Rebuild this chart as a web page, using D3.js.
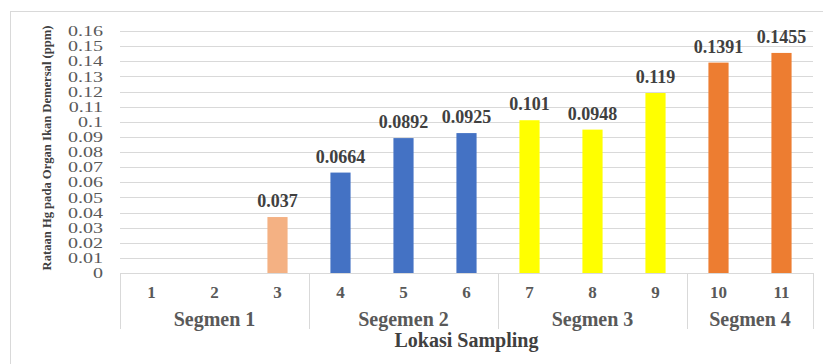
<!DOCTYPE html>
<html><head><meta charset="utf-8">
<script src="https://cdn.jsdelivr.net/npm/d3@7"></script>
<style>body{margin:0;background:#fff}svg{display:block}</style>
</head><body><svg id="c" width="823" height="364"></svg>
<script>
const categories = ["1","2","3","4","5","6","7","8","9","10","11"];
const values = [0,0,0.037,0.0664,0.0892,0.0925,0.101,0.0948,0.119,0.1391,0.1455];
const valueLabels = ["","","0.037","0.0664","0.0892","0.0925","0.101","0.0948","0.119","0.1391","0.1455"];
const barColors = ["#F4B183","#F4B183","#F4B183","#4472C4","#4472C4","#4472C4","#FFFF00","#FFFF00","#FFFF00","#ED7D31","#ED7D31"];
const segments = ["Segmen 1","Segemen 2","Segmen 3","Segmen 4"];
const segmentSizes = [3,3,3,2];
const yTicks = [0,0.01,0.02,0.03,0.04,0.05,0.06,0.07,0.08,0.09,0.1,0.11,0.12,0.13,0.14,0.15,0.16];
const yTickLabels = ["0","0.01","0.02","0.03","0.04","0.05","0.06","0.07","0.08","0.09","0.1","0.11","0.12","0.13","0.14","0.15","0.16"];

const svg = d3.select("#c");
const L=120, R=813, T=31, B=273;
const serif = "Liberation Serif, Times New Roman, DejaVu Serif, serif";
const x = d3.scaleBand().domain(categories).range([L,R]).paddingInner(0.68).paddingOuter(0.34);
const y = d3.scaleLinear().domain([0,0.16]).range([B,T]);

// outer border
svg.append("rect").attr("x",10.5).attr("y",11.5).attr("width",830).attr("height",370)
  .attr("fill","none").attr("stroke","#d9d9d9");

// gridlines
svg.append("g").selectAll("line").data(yTicks.slice(1)).join("line")
  .attr("x1",L).attr("x2",R).attr("y1",d=>Math.round(y(d))+0.5).attr("y2",d=>Math.round(y(d))+0.5)
  .attr("stroke","#d9d9d9").attr("stroke-width",1);

// y tick labels
const yAxis = d3.axisLeft(y).tickValues(yTicks).tickSize(0).tickPadding(0)
  .tickFormat((d,i)=>yTickLabels[i]);
const ya = svg.append("g").attr("transform",`translate(${103},0)`).call(yAxis);
ya.select(".domain").remove();
ya.selectAll("text").attr("font-family",serif).attr("font-size",14.5).attr("fill","#595959")
  .attr("transform","scale(1.38,1)");

// bars
svg.append("g").selectAll("rect").data(values).join("rect")
  .attr("x",(d,i)=>x(categories[i])).attr("width",x.bandwidth())
  .attr("y",d=>y(d)).attr("height",d=>B-y(d)).attr("fill",(d,i)=>barColors[i]);

// value labels
svg.append("g").selectAll("text").data(values).join("text")
  .attr("x",(d,i)=>x(categories[i])+x.bandwidth()/2).attr("y",d=>y(d)-10)
  .attr("text-anchor","middle").attr("font-family",serif).attr("font-weight","bold")
  .attr("font-size",18).attr("fill","#404040").text((d,i)=>valueLabels[i]);

// x axis line
svg.append("line").attr("x1",L).attr("x2",R).attr("y1",B+0.5).attr("y2",B+0.5).attr("stroke","#d9d9d9");

// category labels
const xa = svg.append("g").attr("transform",`translate(0,${B})`)
  .call(d3.axisBottom(x).tickSize(0).tickPadding(0));
xa.select(".domain").remove();
xa.selectAll("text").attr("dy",null).attr("y",25).attr("font-family",serif).attr("font-weight","bold")
  .attr("font-size",17).attr("fill","#595959");

// segment separators and labels
const step = x.step();
let acc = 0;
const bounds=[0];
segmentSizes.forEach(s=>{acc+=s;bounds.push(acc);});
svg.append("g").selectAll("line").data(bounds).join("line")
  .attr("x1",d=>Math.round(L+d*step)+0.5).attr("x2",d=>Math.round(L+d*step)+0.5)
  .attr("y1",B).attr("y2",329).attr("stroke","#d9d9d9");
svg.append("g").selectAll("text").data(segments).join("text")
  .attr("x",(d,i)=>L+(bounds[i]+bounds[i+1])/2*step).attr("y",325.5)
  .attr("text-anchor","middle").attr("font-family",serif).attr("font-weight","bold")
  .attr("font-size",20).attr("fill","#595959").text(d=>d);

// axis titles
svg.append("text").attr("x",(L+R)/2).attr("y",347).attr("text-anchor","middle")
  .attr("font-family",serif).attr("font-weight","bold").attr("font-size",20).attr("fill","#404040")
  .text("Lokasi Sampling");
svg.append("text").attr("transform","translate(51,148) rotate(-90)").attr("text-anchor","middle")
  .attr("font-family",serif).attr("font-weight","bold").attr("font-size",12.6).attr("fill","#404040")
  .text("Rataan  Hg pada Organ Ikan Demersal (ppm)");
</script></body></html>
